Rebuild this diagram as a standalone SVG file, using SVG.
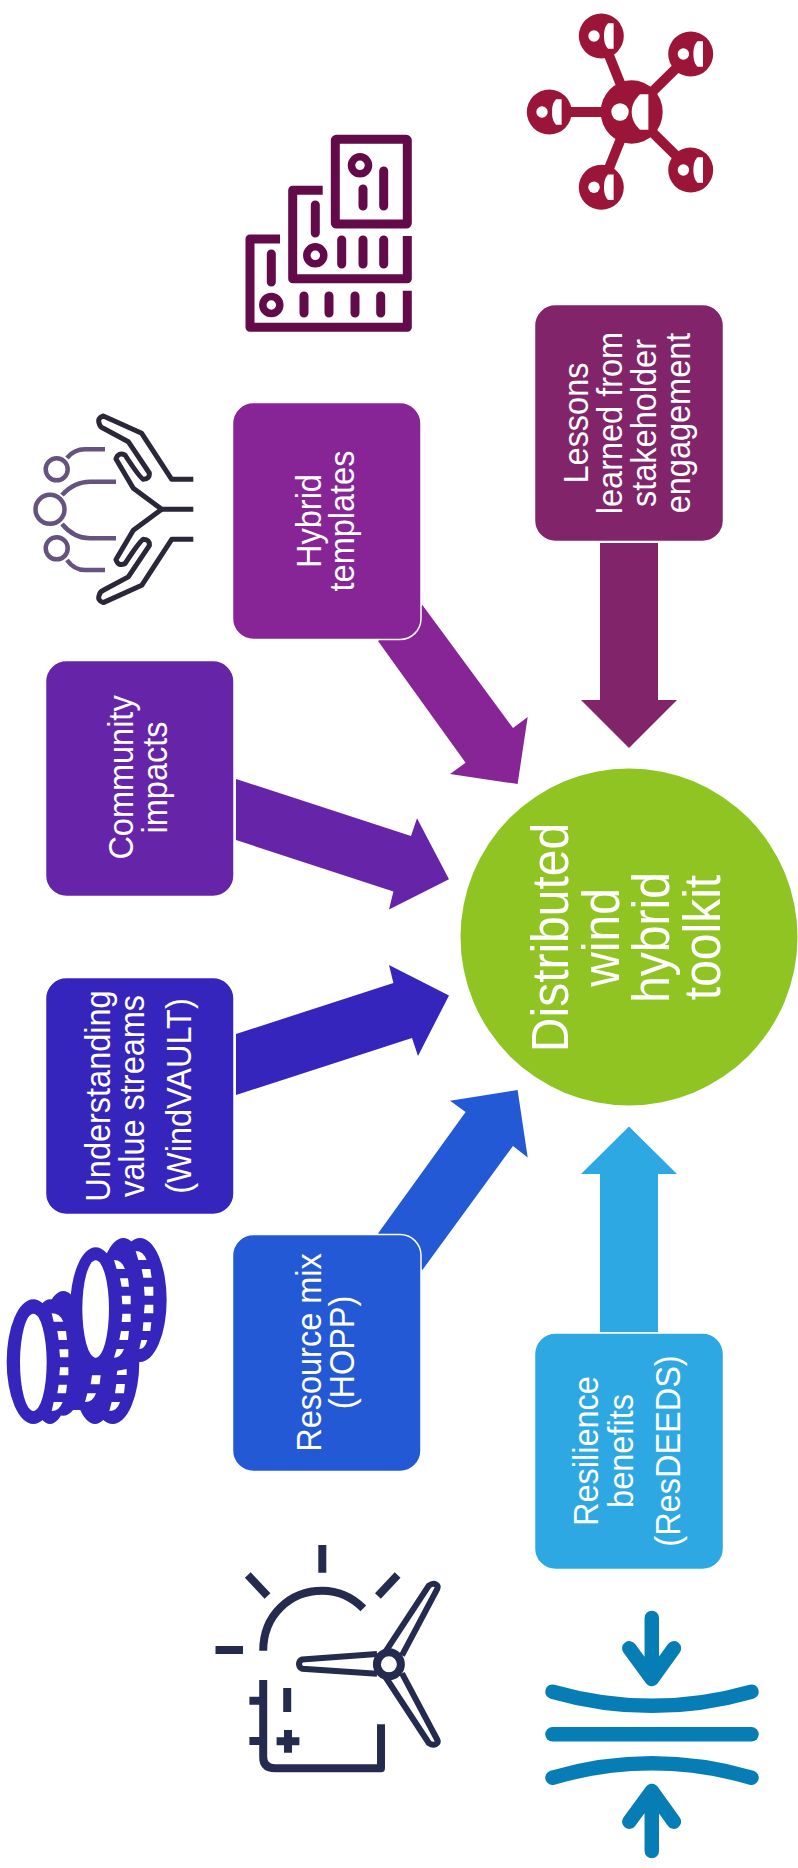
<svg xmlns="http://www.w3.org/2000/svg" width="798" height="1868" viewBox="0 0 798 1868">
<style>
text{font-family:"Liberation Sans",Arial,sans-serif;fill:#fff;text-anchor:middle}
.t{font-size:32.5px}
.b{font-size:48px}
.box{stroke:#fff;stroke-width:1.5}
.i{fill:none;stroke-linecap:butt;stroke-linejoin:round}
.r{stroke-linecap:round}
</style>
<rect width="798" height="1868" fill="#fff"/>
<g id="connectors">
<polygon fill="#812469" points="600,543 658,543 658,700 677,700 629,748 581,700 600,700"/>
<polygon fill="#872597" points="422.4,605 513,728 527.7,717 517.6,784 450,774 465.6,762.7 378,641"/>
<polygon fill="#6624A8" points="236,779 411,836 417,818.3 449,879.3 389,909.6 393.4,891.4 236,840"/>
<polygon fill="#3525BD" points="236,1034 393.4,983 389,965 449,995.4 418,1056 412,1038 236,1095"/>
<polygon fill="#2459D5" points="422.4,1270 513,1146 527.7,1157.5 517.6,1090 450,1100.7 465.6,1112 378,1233.6"/>
<polygon fill="#2DA8E3" points="600,1332 658,1332 658,1174 677,1174 629,1126.4 581,1174 600,1174"/>
</g>
<g id="node-toolkit">
<circle cx="629" cy="937" r="168.5" fill="#8FC423"/>
<text class="b" transform="translate(568,937.5) rotate(-90) scale(1,1.08)">Distributed</text>
<text class="b" transform="translate(619,937.5) rotate(-90) scale(1,1.08)">wind</text>
<text class="b" transform="translate(669,937.5) rotate(-90) scale(1,1.08)">hybrid</text>
<text class="b" transform="translate(720,937.5) rotate(-90) scale(1,1.08)">toolkit</text>
</g>
<g id="node-lessons">
<rect class="box" x="534.5" y="304.5" width="189" height="237" rx="21" fill="#812469"/>
<text class="t" transform="translate(588,423) rotate(-90) scale(1,1.07)">Lessons</text>
<text class="t" transform="translate(622,423) rotate(-90) scale(1,1.07)">learned from</text>
<text class="t" transform="translate(656,423) rotate(-90) scale(1,1.07)">stakeholder</text>
<text class="t" transform="translate(690,423) rotate(-90) scale(1,1.07)">engagement</text>
</g>
<g id="node-hybrid">
<rect class="box" x="232.5" y="402.5" width="188.5" height="237" rx="21" fill="#872597"/>
<text class="t" transform="translate(320.5,521) rotate(-90) scale(1,1.07)">Hybrid</text>
<text class="t" transform="translate(353.5,521) rotate(-90) scale(1,1.07)">templates</text>
</g>
<g id="node-community">
<rect class="box" x="45.5" y="660.5" width="188.5" height="236" rx="21" fill="#6624A8"/>
<text class="t" transform="translate(133,777.5) rotate(-90) scale(1,1.07)">Community</text>
<text class="t" transform="translate(167,777.5) rotate(-90) scale(1,1.07)">impacts</text>
</g>
<g id="node-value">
<rect class="box" x="45.5" y="977.5" width="188.5" height="237" rx="21" fill="#3525BD"/>
<text class="t" transform="translate(109.5,1096) rotate(-90) scale(1,1.07)">Understanding</text>
<text class="t" transform="translate(143.5,1096) rotate(-90) scale(1,1.07)">value streams</text>
<text class="t" transform="translate(191,1096) rotate(-90) scale(1,1.07)">(WindVAULT)</text>
</g>
<g id="node-resource">
<rect class="box" x="232.5" y="1234.5" width="188.5" height="237" rx="21" fill="#2459D5"/>
<text class="t" transform="translate(320.5,1352.5) rotate(-90) scale(1,1.07)">Resource mix</text>
<text class="t" transform="translate(353.5,1352.5) rotate(-90) scale(1,1.07)">(HOPP)</text>
</g>
<g id="node-resilience">
<rect class="box" x="534.5" y="1333" width="189" height="236.5" rx="21" fill="#2DA8E3"/>
<text class="t" transform="translate(598,1451) rotate(-90) scale(1,1.07)">Resilience</text>
<text class="t" transform="translate(632.5,1451) rotate(-90) scale(1,1.07)">benefits</text>
<text class="t" transform="translate(680,1451) rotate(-90) scale(1,1.07)">(ResDEEDS)</text>
</g>
<g id="icon-network" fill="#9B1538">
<g stroke="#9B1538" stroke-width="10"><line x1="631.7" y1="112" x2="601.3" y2="36"/><line x1="631.7" y1="112" x2="690.7" y2="54"/><line x1="631.7" y1="112" x2="549.3" y2="112"/><line x1="631.7" y1="112" x2="601.3" y2="187.3"/><line x1="631.7" y1="112" x2="690.7" y2="170"/></g>
<ellipse cx="631.7" cy="112" rx="31" ry="31.7"/>
<circle cx="620" cy="112" r="8.7" fill="#fff"/>
<path fill="#fff" d="M648.4,94.2H640C634,100 631.7,106 631.7,112S634,124 640,129.8H648.4Z"/>
<circle cx="601.3" cy="36" r="22.5"/><circle cx="594" cy="36" r="5.7" fill="#fff"/><path fill="#fff" d="M613.6,23.3H608C604.5,27 604,32 604,36S604.5,45 608,48.7H613.6Z"/>
<circle cx="690.7" cy="54" r="22.5"/><circle cx="683.4" cy="54" r="5.7" fill="#fff"/><path fill="#fff" d="M703,41.3H697.4C693.9,45 693.4,50 693.4,54S693.9,63 697.4,66.7H703Z"/>
<circle cx="549.3" cy="112" r="22.5"/><circle cx="542" cy="112" r="5.7" fill="#fff"/><path fill="#fff" d="M561.6,99.3H556C552.5,103 552,108 552,112S552.5,121 556,124.7H561.6Z"/>
<circle cx="601.3" cy="187.3" r="22.5"/><circle cx="594" cy="187.3" r="5.7" fill="#fff"/><path fill="#fff" d="M613.6,174.6H608C604.5,178.3 604,183.3 604,187.3S604.5,196.3 608,200H613.6Z"/>
<circle cx="690.7" cy="170" r="22.5"/><circle cx="683.4" cy="170" r="5.7" fill="#fff"/><path fill="#fff" d="M703,157.3H697.4C693.9,161 693.4,166 693.4,170S693.9,179 697.4,182.7H703Z"/>
</g>
<g id="icon-templates" class="i" stroke="#620A4A" stroke-width="9">
<rect x="335.3" y="139.3" width="72" height="84.7" rx="1"/>
<circle cx="360" cy="165.3" r="8.5" stroke-width="7.5"/>
<circle cx="315.3" cy="255.3" r="8.5" stroke-width="7.5"/>
<circle cx="271.3" cy="305" r="8.5" stroke-width="7.5"/>
<path d="M322.7,190.3H292.7V278.7H407.3V236"/>
<path d="M280,239H250V327.3H407.3V290.7"/>
<path class="r" d="M363,189V206M383.7,171V206M315.3,205V233M341.7,240V264M363,240V264M383.7,240V264M271.3,254V282M304,296V313M329,296V313M355,296V313M380.7,296V313"/>
</g>
<g id="icon-hands" class="i">
<g stroke="#65527F" stroke-width="4.5">
<circle cx="56.7" cy="469.3" r="11"/><circle cx="50" cy="509.3" r="14.5"/><circle cx="56.7" cy="548.3" r="11"/>
<path d="M67,458Q74,449.3 85,449.3H105M62,495Q74,481.7 90,481.7H116M62,524Q74,538.3 90,538.3H116M67,560Q74,570 85,570H105"/>
</g>
<g stroke="#2B2638" stroke-width="5">
<path d="M193.3,479.3H171.7L141.7,433.3L103.3,416Q97,418 99.3,423.7Q100,427 103.3,428.3L128.3,441.7L149.3,473Q150,479 143.3,479.3Q140,478 125,455Q118,452 116,459L133.3,488.3L161.7,509.3H193.3"/>
<path d="M193.3,539.3H171.7L141.7,585.3L103.3,602.6Q97,600.6 99.3,594.9Q100,591.6 103.3,590.3L128.3,576.9L149.3,545.6Q150,539.6 143.3,539.3Q140,540.6 125,563.6Q118,566.6 116,559.6L133.3,530.3L161.7,509.3"/>
</g>
</g>
<g id="icon-coins" transform="translate(0,1220) scale(.3333)" fill="#3525BD">
<ellipse cx="100" cy="425" rx="80" ry="187"/><ellipse cx="150" cy="425" rx="65" ry="187"/><ellipse cx="190" cy="400" rx="70" ry="187"/><ellipse cx="285" cy="425" rx="70" ry="187"/><ellipse cx="338" cy="425" rx="80" ry="187"/><rect x="100" y="420" width="238" height="150"/>
<ellipse cx="287" cy="267" rx="77" ry="185"/><ellipse cx="420" cy="240" rx="80" ry="186"/><rect x="290" y="100" width="130" height="320"/><ellipse cx="370" cy="240" rx="75" ry="186"/>
<g fill="#fff">
<ellipse cx="100" cy="427" rx="40" ry="146"/><ellipse cx="287" cy="267" rx="40" ry="146"/>
<path d="M155,280Q180,280 190,305H161ZM172,333H198L201,360H176ZM178,388H205V412H180ZM180,442H205V466H178ZM176,494H201L198,520H172ZM161,546H188Q178,573 155,573Z"/>
<path d="M342,120Q365,120 375,147H350ZM360,175H384L387,200H365ZM365,227H392V253H367ZM367,281H392V306H365ZM363,333H387L384,360H358ZM350,387H372Q362,413 342,413Z"/>
<path d="M407,93Q430,93 440,120H415ZM425,147H451L455,173H430ZM432,200H460V227H434ZM434,254H460V280H432ZM430,307H454L451,333H428ZM424,360H442Q435,387 418,387Z"/>
<path d="M352,452L380,447V465H350ZM276,466H302L299,493H272ZM349,492H375L372,520H345ZM262,520H288Q280,546 255,546ZM335,546H360Q352,573 328,573Z"/>
</g>
</g>
<g id="icon-wind" class="i" stroke="#252B4F" stroke-width="8">
<path d="M322.3,1545V1572.7M247.8,1575L267.5,1596M397.6,1575L377.9,1596M215.5,1650H243"/>
<path d="M263.2,1650.7C263.2,1615 290,1590.7 322.3,1590.7C338,1590.7 352,1597 363.3,1608.3"/>
<path d="M263.2,1680V1757Q263.2,1768.3 275,1768.3H381V1724.3"/>
<path d="M249.4,1700.7H263M249.4,1741H263M287.2,1688V1712M276.6,1741.3H299.4M288,1730V1752.7"/>
<circle cx="388.9" cy="1664.3" r="12"/>
<g stroke-width="6">
<path d="M385.5,1651.6L428.8,1585.6Q433,1582.5 436,1584.5Q438.5,1586 437.4,1588.6L402,1655.3"/>
<path d="M377,1654L302,1659.5Q299,1661 299,1664Q299,1667 302,1668.7L377,1673.7"/>
<path d="M385.5,1677L428.8,1743Q433,1746 436,1744Q438.5,1742.6 437.4,1740L402,1673.3"/>
</g>
</g>
<g id="icon-compress" class="i r" stroke="#067DB5" stroke-width="14.5">
<path d="M651.8,1618V1676M629.3,1648.3L651.8,1679L673.9,1648.3"/>
<path d="M552.5,1691.7Q651.8,1720 751.5,1691.7"/>
<path d="M552.5,1734.3H751.5"/>
<path d="M552.5,1777.7Q651.8,1749 751.5,1777.7"/>
<path d="M651.8,1851V1794M629.3,1821.7L651.8,1791L673.9,1821.7"/>
</g>
</svg>
